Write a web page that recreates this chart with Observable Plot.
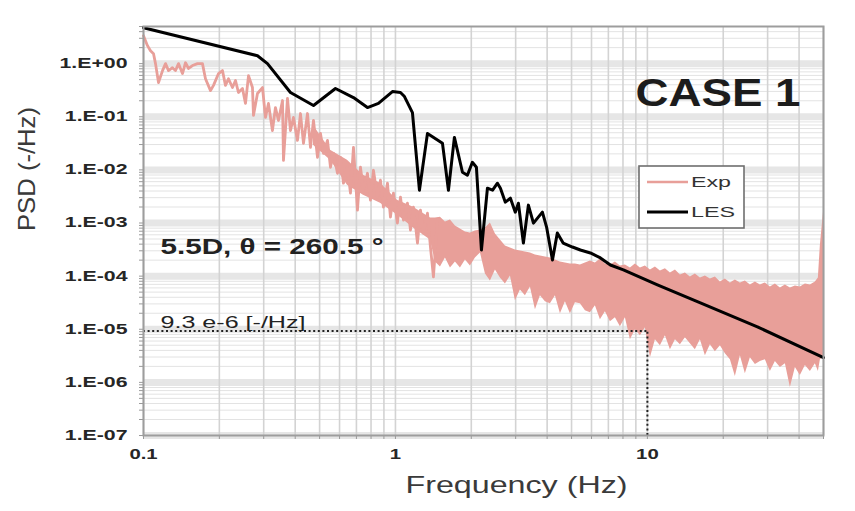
<!DOCTYPE html>
<html>
<head>
<meta charset="utf-8">
<script src="https://cdn.jsdelivr.net/npm/d3@7"></script>
<script src="https://cdn.jsdelivr.net/npm/@observablehq/plot@0.6"></script>
<style>
  body { margin: 0; background: #fff; }
  #chart { width: 855px; height: 511px; }
</style>
</head>
<body>
<div id="chart"></div>
<script>
// ---- Axis ticks -----------------------------------------------------------
const yTickValues = [1e-7, 1e-6, 1e-5, 1e-4, 1e-3, 1e-2, 1e-1, 1];
const yTickLabels = ["1.E-07", "1.E-06", "1.E-05", "1.E-04", "1.E-03", "1.E-02", "1.E-01", "1.E+00"];
const xTickValues = [0.1, 1, 10];
const xTickLabels = ["0.1", "1", "10"];

// ---- Reference level annotation -------------------------------------------
const refLevel = 9.3e-6;
const refFreq = 10;
const refLabel = "9.3 e-6 [-/Hz]";

// ---- Experimental PSD, low-frequency trace (Hz, -/Hz) ---------------------
const expLineFreq = [0.1, 0.1037, 0.1066, 0.1096, 0.1116, 0.1147, 0.119, 0.1223, 0.1257, 0.1303,
  0.1339, 0.1377, 0.1428, 0.1468, 0.1509, 0.1565, 0.1638, 0.1714, 0.1762, 0.1845,
  0.1896, 0.1985, 0.2058, 0.2115, 0.2174, 0.2255, 0.2318, 0.2382, 0.2471, 0.254,
  0.2611, 0.2707, 0.2732, 0.2834, 0.2967, 0.3049, 0.3133, 0.3249, 0.334, 0.3433,
  0.3562, 0.3594, 0.3728, 0.3831, 0.3937, 0.4084, 0.4198, 0.4315, 0.4476, 0.46,
  0.4728, 0.4904, 0.5041, 0.5181, 0.5374, 0.5523, 0.5676, 0.5888, 0.6051, 0.6219,
  0.645, 0.6629, 0.6813, 0.7067, 0.7263, 0.7464, 0.7743, 0.7957, 0.8178, 0.8483,
  0.8719, 0.896, 0.9296, 0.9554, 0.9819, 1.018, 1.047, 1.076, 1.116, 1.147,
  1.179, 1.223, 1.257, 1.291, 1.34, 1.377, 1.415, 1.468];
const expLinePsd = [3.35, 2.18, 1.75, 1.54, 1.0, 0.44, 0.74, 1.0, 0.74, 0.84,
  0.74, 1.0, 0.65, 1.04, 0.81, 0.92, 1.0, 1.0, 0.52, 0.31,
  0.39, 0.65, 0.74, 0.39, 0.52, 0.355, 0.48, 0.286, 0.34, 0.178,
  0.596, 0.355, 0.106, 0.274, 0.355, 0.097, 0.178, 0.055, 0.149, 0.085,
  0.202, 0.0151, 0.221, 0.055, 0.097, 0.0359, 0.115, 0.0316, 0.115, 0.0265,
  0.0853, 0.0172, 0.0486, 0.0205, 0.0359, 0.0112, 0.0205, 0.00863, 0.0172, 0.00561,
  0.0112, 0.00364, 0.0265, 0.00175, 0.0112, 0.00414, 0.00863, 0.00269, 0.00983, 0.00306,
  0.00638, 0.00199, 0.00561, 0.00129, 0.00364, 0.000996, 0.00306, 0.00113, 0.00236, 0.000736,
  0.00199, 0.00042, 0.00175, 0.000647, 0.00153, 0.000353, 0.0000966, 0.00113];

// ---- Experimental PSD, spread of the dense part (lower / upper extent) ----
const expBandFreq = [0.4728, 0.5523, 0.645, 0.7464, 0.8719, 1.018, 1.179, 1.377,
  1.441, 1.509, 1.579, 1.653, 1.730, 1.811, 1.896, 1.984, 2.077, 2.175,
  2.276, 2.382, 2.494, 2.610, 2.732, 2.860, 2.994, 3.133, 3.280, 3.433,
  3.594, 3.762, 3.937, 4.122, 4.314, 4.516, 4.727, 4.948, 5.179, 5.421,
  5.675, 5.940, 6.218, 6.508, 6.812, 7.131, 7.464, 7.813, 8.178, 8.561,
  8.961, 9.380, 9.818, 10.28, 10.76, 11.26, 11.79, 12.34, 12.92, 13.52,
  14.15, 14.81, 15.50, 16.23, 16.99, 17.78, 18.61, 19.48, 20.39, 21.35,
  22.34, 23.39, 24.48, 25.63, 26.83, 28.08, 29.39, 30.77, 32.21, 33.71,
  35.29, 36.94, 38.67, 40.47, 42.37, 44.35, 46.42, 47.71, 48.60, 50];
const expBandHigh = [0.0687, 0.0233, 0.0151, 0.00792, 0.00561, 0.00269, 0.00199, 0.00124,
  1.236e-3, 1.29e-3, 1.04e-3, 1.134e-3, 8.75e-4, 7.69e-4, 6.75e-4, 6.47e-4, 7.05e-4, 7.36e-4,
  8.02e-4, 9.96e-4, 6.19e-4, 4.78e-4, 3.69e-4, 3.38e-4, 3.10e-4, 2.97e-4, 2.85e-4, 2.73e-4,
  2.50e-4, 2.39e-4, 2.29e-4, 2.20e-4, 2.01e-4, 1.85e-4, 1.77e-4, 1.69e-4, 1.69e-4, 1.62e-4,
  1.77e-4, 1.93e-4, 1.77e-4, 2.10e-4, 1.69e-4, 1.62e-4, 1.85e-4, 1.55e-4, 1.62e-4, 1.43e-4,
  1.69e-4, 1.43e-4, 1.55e-4, 1.31e-4, 1.49e-4, 1.25e-4, 1.37e-4, 1.15e-4, 1.31e-4, 1.05e-4,
  1.15e-4, 9.66e-5, 1.10e-4, 9.25e-5, 1.01e-4, 8.86e-5, 9.66e-5, 7.78e-5, 8.86e-5, 7.45e-5,
  8.49e-5, 7.45e-5, 8.13e-5, 6.84e-5, 7.78e-5, 6.84e-5, 7.45e-5, 6.27e-5, 7.14e-5, 6.01e-5,
  6.84e-5, 6.01e-5, 6.55e-5, 6.27e-5, 7.14e-5, 6.84e-5, 7.78e-5, 9.25e-5, 3.85e-4, 1.60e-3];
const expBandLow = [0.0290, 0.0151, 0.00514, 0.00334, 0.00236, 0.00141, 0.000802, 0.000478,
  1.85e-4, 1.49e-4, 2.20e-4, 1.43e-4, 1.85e-4, 1.43e-4, 2.01e-4, 1.55e-4, 2.20e-4, 2.73e-4,
  1.10e-4, 8.13e-5, 1.31e-4, 9.25e-5, 7.14e-5, 1.01e-4, 3.43e-5, 5.51e-5, 4.25e-5, 6.27e-5,
  2.32e-5, 4.25e-5, 3.28e-5, 3.01e-5, 4.25e-5, 1.95e-5, 3.28e-5, 1.95e-5, 3.14e-5, 3.01e-5,
  2.22e-5, 2.04e-5, 2.76e-5, 1.51e-5, 2.13e-5, 1.38e-5, 1.64e-5, 1.11e-5, 1.64e-5, 6.36e-6,
  9.79e-6, 7.55e-6, 1.07e-5, 2.92e-6, 6.36e-6, 4.90e-6, 7.55e-6, 4.12e-6, 6.36e-6, 5.12e-6,
  6.93e-6, 5.35e-6, 4.12e-6, 6.36e-6, 3.18e-6, 5.12e-6, 3.78e-6, 4.90e-6, 3.47e-6, 2.68e-6,
  1.29e-6, 3.18e-6, 1.46e-6, 2.92e-6, 2.16e-6, 2.46e-6, 2.68e-6, 1.60e-6, 2.46e-6, 1.90e-6,
  2.25e-6, 7.98e-7, 1.90e-6, 1.34e-6, 2.07e-6, 1.60e-6, 2.25e-6, 1.60e-6, 2.68e-6, 2.92e-6];

// ---- LES PSD (Hz, -/Hz) ----------------------------------------------------
const lesFreq = [0.1, 0.2834, 0.3105, 0.3831, 0.4728, 0.578, 0.6813, 0.7743, 0.856, 0.973,
  1.047, 1.086, 1.168, 1.245, 1.34, 1.537, 1.623, 1.714, 1.845, 1.93,
  2.02, 2.096, 2.194, 2.318, 2.43, 2.54, 2.61, 2.73, 2.86, 2.99,
  3.076, 3.22, 3.37, 3.53, 3.69, 3.83, 3.98, 4.2, 4.39, 4.63,
  5.04, 5.42, 5.94, 6.51, 7.13, 8.03, 10.96, 16.23, 27.33, 50];
const lesPsd = [4.73, 1.41, 1.0, 0.286, 0.163, 0.34, 0.23, 0.149, 0.178, 0.298,
  0.286, 0.24, 0.12, 0.00414, 0.0486, 0.0316, 0.00414, 0.0409, 0.00902, 0.00792,
  0.0139, 0.0112, 0.00031, 0.00452, 0.00414, 0.00561, 0.00452, 0.00247, 0.00293, 0.0016,
  0.00236, 0.00042, 0.00217, 0.000996, 0.00129, 0.0016, 0.000838, 0.000201, 0.000647, 0.00042,
  0.000353, 0.00031, 0.000273, 0.00022, 0.000162, 0.000131, 0.0000684, 0.0000314, 0.0000111, 0.00000292];

const seriesNames = ["Exp", "LES"];
const caseLabel = "CASE 1";
const conditionLabel = "5.5D, \u03B8 = 260.5 \u00B0";
const xTitle = "Frequency (Hz)";
const yTitle = "PSD (-/Hz)";

// ---- Build tables ------------------------------------------------------------
const expLine = expLineFreq.map((f, i) => ({f, p: expLinePsd[i]}));
const expBand = expBandFreq.map((f, i) => ({f, lo: expBandLow[i], hi: expBandHigh[i]}));
const les = lesFreq.map((f, i) => ({f, p: lesPsd[i]}));

const xDomain = [0.1, 50];
const yDomain = [1e-7, 5];

// log-decade grid positions
const xGrid = [];
for (const dec of [0.1, 1, 10]) for (let k = 1; k <= 9; k++) { const v = dec * k; if (v <= xDomain[1]) xGrid.push(v); }
const yGridMinor = [];
for (let e = -7; e <= 0; e++) for (let k = 2; k <= 9; k++) { const v = k * Math.pow(10, e); if (v <= yDomain[1]) yGridMinor.push(v); }

const expColor = "#e89f99";
const font = "'Liberation Sans', Arial, sans-serif";

const chart = Plot.plot({
  width: 855,
  height: 511,
  marginLeft: 143,
  marginRight: 32,
  marginTop: 26,
  marginBottom: 76,
  style: {fontFamily: font, background: "#fff", color: "#222"},
  x: {type: "log", domain: xDomain, label: null},
  y: {type: "log", domain: yDomain, label: null},
  marks: [
    // grid
    Plot.ruleY(yGridMinor, {stroke: "#e3e3e3", strokeWidth: 1}),
    Plot.ruleY(yTickValues, {stroke: "#e6e6e6", strokeWidth: 7}),
    Plot.ruleX(xGrid, {stroke: "#d3d3d3", strokeWidth: 1.6}),
    // minor ticks on the axes
    Plot.axisX(xGrid, {tickSize: 4, tickFormat: () => "", stroke: "#9a9a9a", label: null}),
    Plot.axisY([...yTickValues, ...yGridMinor], {tickSize: 4, tickFormat: () => "", stroke: "#9a9a9a", label: null}),
    // experimental spectrum
    Plot.areaY(expBand, {x: "f", y1: "lo", y2: "hi", fill: expColor}),
    Plot.line(expLine, {x: "f", y: "p", stroke: expColor, strokeWidth: 2.8, strokeLinejoin: "round"}),
    // reference level
    Plot.ruleY([{y: refLevel, x1: xDomain[0], x2: refFreq}], {y: "y", x1: "x1", x2: "x2", stroke: "#222", strokeWidth: 2, strokeDasharray: "2,2.6"}),
    Plot.ruleX([{x: refFreq, y1: yDomain[0], y2: refLevel}], {x: "x", y1: "y1", y2: "y2", stroke: "#222", strokeWidth: 2, strokeDasharray: "2,2.6"}),
    // LES spectrum
    Plot.line(les, {x: "f", y: "p", stroke: "#000", strokeWidth: 3, strokeLinejoin: "round"}),
    Plot.frame({stroke: "#9d9d9d", strokeWidth: 2}),
    // tick labels
    Plot.text(yTickValues, {y: d => d, text: (d, i) => yTickLabels[i], frameAnchor: "left", dx: -16, textAnchor: "end",
      fontSize: 14, fontWeight: "bold", fill: "#262626"}),
    Plot.text(xTickValues, {x: d => d, text: (d, i) => xTickLabels[i], frameAnchor: "bottom", dy: 23,
      fontSize: 14, fontWeight: "bold", fill: "#262626"}),
    // axis titles
    Plot.text([xTitle], {frameAnchor: "bottom", dx: 33, dy: 57, fontSize: 24, fill: "#3a3a3a"}),
    Plot.text([yTitle], {frameAnchor: "left", dx: -116, rotate: -90, fontSize: 24, fill: "#3a3a3a"}),
    // annotations
    Plot.text([caseLabel], {frameAnchor: "top-right", dx: -23, dy: 53, textAnchor: "end", fontSize: 38, fontWeight: "bold", fill: "#1c1c1c"}),
    Plot.text([conditionLabel], {frameAnchor: "top-left", dx: 17, dy: 212, textAnchor: "start", fontSize: 22, fontWeight: "bold", fill: "#222"}),
    Plot.text([{x: xDomain[0], y: refLevel, t: refLabel}], {x: "x", y: "y", text: "t", dx: 17, dy: -3, textAnchor: "start", lineAnchor: "bottom",
      fontSize: 17, fill: "#222"})
  ]
});

document.getElementById("chart").appendChild(chart);

// Legend box inside the plot area
const svg = d3.select(chart);
const lg = svg.append("g").attr("class", "legend").attr("text-anchor", "start");
lg.append("rect").attr("x", 639).attr("y", 166).attr("width", 105).attr("height", 62)
  .attr("fill", "#fff").attr("stroke", "#6e6e6e").attr("stroke-width", 1.6);
const legendItems = [
  {name: seriesNames[0], color: expColor, width: 2.6, y: 182, len: 40},
  {name: seriesNames[1], color: "#000", width: 3, y: 212, len: 44}
];
for (const it of legendItems) {
  lg.append("line").attr("x1", 647).attr("x2", 688).attr("y1", it.y).attr("y2", it.y)
    .attr("stroke", it.color).attr("stroke-width", it.width);
  lg.append("text").attr("x", 691).attr("y", it.y).attr("dy", "0.35em")
    .attr("font-family", font).attr("font-size", 15).attr("fill", "#333")
    .attr("textLength", it.len).attr("lengthAdjust", "spacingAndGlyphs").text(it.name);
}

// Wide lettering: stretch each label horizontally to its set width
const widths = new Map([
  [xTitle, () => 222],
  [yTitle, () => 124],
  [caseLabel, () => 165],
  [conditionLabel, () => 223],
  [refLabel, () => 145]
]);
for (const t of yTickLabels) widths.set(t, n => n * 1.52);
for (const t of xTickLabels) widths.set(t, n => n * 1.45);
svg.selectAll("text").each(function () {
  const fn = widths.get(this.textContent);
  if (!fn) return;
  const n = this.getComputedTextLength();
  if (!n) return;
  this.setAttribute("textLength", fn(n));
  this.setAttribute("lengthAdjust", "spacingAndGlyphs");
});
</script>
</body>
</html>
